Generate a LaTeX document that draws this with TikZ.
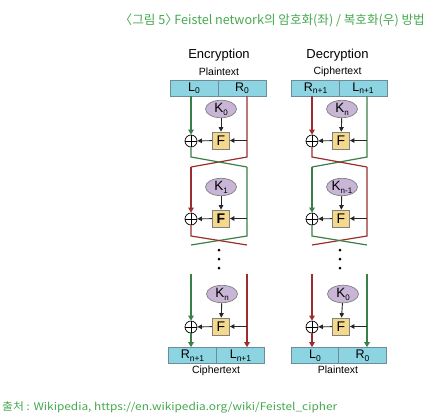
\documentclass[tikz,border=0pt]{standalone}
\usepackage{fontspec}
\setmainfont{Liberation Sans}
\newfontfamily\krfont[RawFeature=+halt]{Noto Sans CJK KR}
\usetikzlibrary{arrows.meta,shapes.geometric}
\definecolor{lgreen}{HTML}{3A7F45}
\definecolor{lred}{HTML}{9A2E2E}
\definecolor{capgreen}{HTML}{45A84F}
\definecolor{boxfill}{HTML}{8DD4E2}
\definecolor{boxline}{HTML}{6E8C96}
\definecolor{kfill}{HTML}{C9B5D6}
\definecolor{ffill}{HTML}{F4D88C}
\newcommand\mysub[1]{{\fontsize{8.5}{8.5}\selectfont\raisebox{-2.5pt}{#1}}}
\newcommand\ksub[1]{{\fontsize{8}{8}\selectfont\raisebox{-3pt}{#1}}}
\tikzset{
  half/.style={draw=boxline, fill=boxfill, minimum width=48pt, minimum height=16pt, inner sep=0pt, line width=0.7pt, font=\fontsize{12.5}{12.5}\selectfont},
  keynode/.style={ellipse, draw=gray, fill=kfill, minimum width=31pt, minimum height=17pt, inner sep=0pt, line width=0.7pt, font=\fontsize{13.5}{13.5}\selectfont},
  fnode/.style={draw=gray, fill=ffill, minimum size=17pt, inner sep=0pt, line width=0.7pt, font=\fontsize{14}{14}\selectfont},
  xornode/.style={circle, draw=black, minimum size=12pt, inner sep=0pt, line width=0.7pt},
  head/.style={font=\fontsize{13}{13}\selectfont, inner sep=0pt},
  subhead/.style={font=\fontsize{10.5}{10.5}\selectfont, inner sep=0pt},
  gline/.style={draw=lgreen, line width=1.2pt},
  rline/.style={draw=lred, line width=1.2pt},
  blk/.style={draw=black!85, line width=0.9pt, -{Triangle[length=4.5pt,width=4.5pt]}},
  tip/.style={-{Triangle[length=5pt,width=5.5pt]}},
  dotnode/.style={circle, fill=black, minimum size=3pt, inner sep=0pt},
  captext/.style={text=capgreen, inner sep=0pt}
}
\begin{document}
\begin{tikzpicture}[x=1pt,y=-1pt]
\useasboundingbox (0,0) rectangle (438,418);
% captions
\node[captext, anchor=east, font=\krfont\fontsize{12.6}{12.6}\selectfont] (title) at (425,20) {〈그림 5〉 Feistel network의 암호화(좌) / 복호화(우) 방법};
\node[captext, anchor=west, font=\krfont\fontsize{10.5}{10.5}\selectfont] (src) at (2,407) {\scalebox{1.13}[1]{출처 : Wikipedia, https://en.wikipedia.org/wiki/Feistel\_cipher}};

% ================= Encryption =================
\node[head] (encT) at (219,55) {Encryption};
\node[subhead] (encP) at (219,72) {Plaintext};
\node[half] (eL0) at (194,88) {L\mysub{0}};
\node[half] (eR0) at (242,88) {R\mysub{0}};
% round 1
\node[keynode] (eK0) at (221,109) {K\ksub{0}};
\node[fnode] (eF1) at (221,140.5) {F};
\node[xornode] (eX1) at (191,141) {};
\draw[line width=0.7pt] (eX1.north) -- (eX1.south) (eX1.west) -- (eX1.east);
\coordinate (e1a) at (247,140.5);
\coordinate (e1b) at (191,157);
\coordinate (e1c) at (247,157);
\coordinate (e1d) at (191,167);
\coordinate (e1e) at (247,167);
\draw[gline,tip] (eL0.south -| eX1) -- (eX1.north);
\draw[rline] (eR0.south -| e1a) -- (e1c) -- (e1d);
\draw[gline] (eX1.south) -- (e1b) -- (e1e);
\draw[blk] (eK0) -- (eF1);
\draw[blk] (e1a) -- (eF1);
\draw[blk] (eF1) -- (eX1);
% round 2
\node[keynode] (eK1) at (221,187) {K\ksub{1}};
\node[fnode, font=\fontsize{14}{14}\selectfont\bfseries] (eF2) at (221,218.5) {F};
\node[xornode] (eX2) at (191,219) {};
\draw[line width=0.7pt] (eX2.north) -- (eX2.south) (eX2.west) -- (eX2.east);
\coordinate (e2a) at (247,218.5);
\coordinate (e2b) at (191,236);
\coordinate (e2c) at (247,236);
\coordinate (e2d) at (191,245);
\coordinate (e2e) at (247,245);
\draw[rline,tip] (e1d) -- (eX2.north);
\draw[gline] (e1e) -- (e2c) -- (e2d);
\draw[rline] (eX2.south) -- (e2b) -- (e2e);
\draw[blk] (eK1) -- (eF2);
\draw[blk] (e2a) -- (eF2);
\draw[blk] (eF2) -- (eX2);
% dots
\node[dotnode] (ed1) at (219,250) {};
\node[dotnode] (ed2) at (219,259) {};
\node[dotnode] (ed3) at (219,268) {};
% round n
\node[keynode] (eKn) at (222,294) {K\ksub{n}};
\node[fnode] (eFn) at (221,326.5) {F};
\node[xornode] (eX3) at (191,327) {};
\draw[line width=0.7pt] (eX3.north) -- (eX3.south) (eX3.west) -- (eX3.east);
\coordinate (e3l) at (191,274);
\coordinate (e3r) at (247,274);
\coordinate (e3a) at (247,326.5);
\node[half] (eRn) at (192.5,355.5) {R\mysub{n+1}};
\node[half] (eLn) at (240.5,355.5) {L\mysub{n+1}};
\node[subhead] (encC) at (216,371) {Ciphertext};
\draw[gline,tip] (e3l) -- (eX3.north);
\draw[gline,tip] (eX3.south) -- (eRn.north -| eX3);
\draw[rline,tip] (e3r) -- (eLn.north -| e3r);
\draw[blk] (eKn) -- (eFn);
\draw[blk] (e3a) -- (eFn);
\draw[blk] (eFn) -- (eX3);

% ================= Decryption =================
\node[head] (decT) at (337.5,55) {Decryption};
\node[subhead] (decC) at (337.5,72) {Ciphertext};
\node[half] (dRn) at (315.5,88) {R\mysub{n+1}};
\node[half] (dLn) at (363,88) {L\mysub{n+1}};
% round 1
\node[keynode] (dKn) at (342,109) {K\ksub{n}};
\node[fnode] (dF1) at (341,140.5) {F};
\node[xornode] (dX1) at (312,141) {};
\draw[line width=0.7pt] (dX1.north) -- (dX1.south) (dX1.west) -- (dX1.east);
\coordinate (d1a) at (367,140.5);
\coordinate (d1b) at (312,157);
\coordinate (d1c) at (367,157);
\coordinate (d1d) at (312,167);
\coordinate (d1e) at (367,167);
\draw[rline,tip] (dRn.south -| dX1) -- (dX1.north);
\draw[gline] (dLn.south -| d1a) -- (d1c) -- (d1d);
\draw[rline] (dX1.south) -- (d1b) -- (d1e);
\draw[blk] (dKn) -- (dF1);
\draw[blk] (d1a) -- (dF1);
\draw[blk] (dF1) -- (dX1);
% round 2
\node[keynode] (dKm) at (342,187) {K\ksub{n-1}};
\node[fnode] (dF2) at (341,218.5) {F};
\node[xornode] (dX2) at (312,219) {};
\draw[line width=0.7pt] (dX2.north) -- (dX2.south) (dX2.west) -- (dX2.east);
\coordinate (d2a) at (367,218.5);
\coordinate (d2b) at (312,236);
\coordinate (d2c) at (367,236);
\coordinate (d2d) at (312,245);
\coordinate (d2e) at (367,245);
\draw[gline,tip] (d1d) -- (dX2.north);
\draw[rline] (d1e) -- (d2c) -- (d2d);
\draw[gline] (dX2.south) -- (d2b) -- (d2e);
\draw[blk] (dKm) -- (dF2);
\draw[blk] (d2a) -- (dF2);
\draw[blk] (dF2) -- (dX2);
% dots
\node[dotnode] (dd1) at (340,250) {};
\node[dotnode] (dd2) at (340,259) {};
\node[dotnode] (dd3) at (340,268) {};
% round n
\node[keynode] (dK0) at (343,294) {K\ksub{0}};
\node[fnode] (dFn) at (341,326.5) {F};
\node[xornode] (dX3) at (312,327) {};
\draw[line width=0.7pt] (dX3.north) -- (dX3.south) (dX3.west) -- (dX3.east);
\coordinate (d3l) at (312,274);
\coordinate (d3r) at (367,274);
\coordinate (d3a) at (367,326.5);
\node[half] (dL0) at (315,355.5) {L\mysub{0}};
\node[half] (dR0) at (362.5,355.5) {R\mysub{0}};
\node[subhead] (decP) at (338,370) {Plaintext};
\draw[rline,tip] (d3l) -- (dX3.north);
\draw[rline,tip] (dX3.south) -- (dL0.north -| dX3);
\draw[gline,tip] (d3r) -- (dR0.north -| d3r);
\draw[blk] (dK0) -- (dFn);
\draw[blk] (d3a) -- (dFn);
\draw[blk] (dFn) -- (dX3);
\end{tikzpicture}
\end{document}
